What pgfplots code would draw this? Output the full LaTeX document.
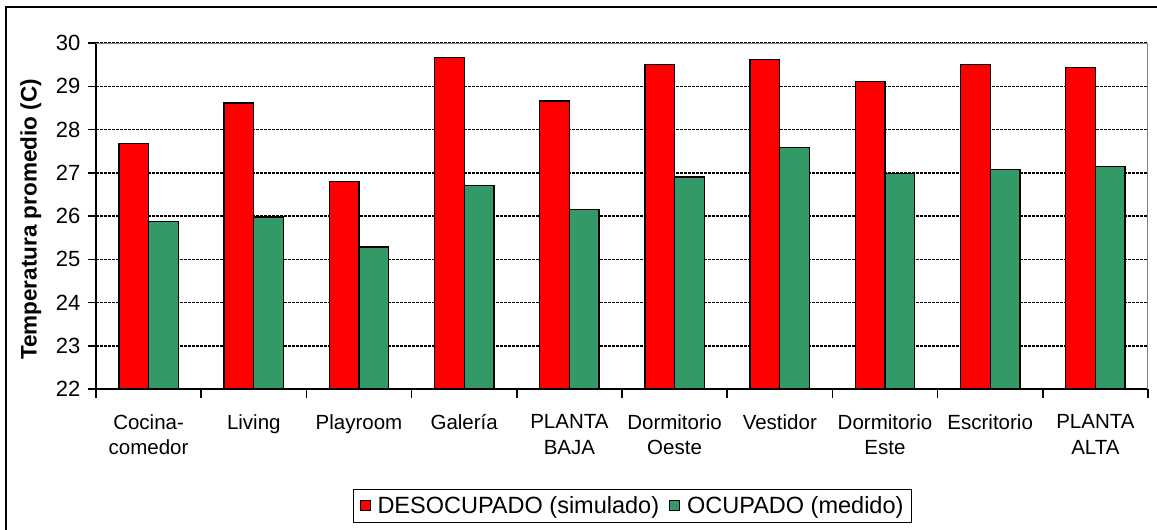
\documentclass[border=0pt]{standalone}
\usepackage{fontspec}
\setmainfont{Liberation Sans}
\usepackage{pgfplots}
\pgfplotsset{compat=1.18}
\definecolor{barred}{RGB}{255,0,0}
\definecolor{bargreen}{RGB}{51,153,102}
\begin{document}
\begin{tikzpicture}[x=1pt,y=1pt]
\useasboundingbox (-96,-141) rectangle (1061,389);
\draw[black, line width=2pt] (-90,-150) -- (-90,382) -- (1070,382);
\begin{axis}[
  at={(0,0)}, anchor=south west,
  scale only axis, width=1052pt, height=346pt,
  xmin=0.5, xmax=10.5, ymin=22, ymax=30,
  ytick={22,23,...,30},
  xtick={1,...,10},
  xticklabels={{Cocina-\\comedor},{Living},{Playroom},{Galería},{PLANTA\\BAJA},{Dormitorio\\Oeste},{Vestidor},{Dormitorio\\Este},{Escritorio},{PLANTA\\ALTA}},
  minor xtick={0.5,1.5,...,10.5},
  tick align=outside,
  major tick length=8pt,
  minor tick length=9pt,
  xtick style={draw=none},
  minor x tick style={draw=black, line width=1.5pt},
  ytick style={draw=black, line width=1.5pt},
  axis x line*=bottom, axis y line*=left,
  axis line style={line width=2pt, -},
  ymajorgrids,
  major grid style={black, line width=1.5pt, dash pattern=on 3pt off 1pt},
  /pgf/number format/assume math mode=true,
  yticklabel style={font=\fontsize{22}{26}\selectfont, xshift=-4pt},
  xticklabel style={font=\fontsize{20.5}{25.5}\selectfont, align=center, anchor=north, yshift=-14pt},
  ylabel={Temperatura promedio (C)},
  ylabel style={font=\fontsize{22.5}{27}\selectfont\bfseries, at={(axis description cs:-0.062,0.49)}, anchor=center},
  legend columns=2,
  legend style={at={(axis description cs:0.51,-0.338)}, anchor=center, draw=black, line width=1.2pt,
    font=\fontsize{23.5}{28}\selectfont, inner xsep=6pt, inner ysep=5pt,
    /tikz/every odd column/.append style={column sep=5pt},
    /tikz/every even column/.append style={column sep=8pt}},
  legend image code/.code={\draw[#1, line width=1pt] (0pt,-5pt) rectangle (10pt,5pt);},
]
\addplot[ybar, bar width=29.7pt, bar shift=-14.85pt, fill=barred, draw=black, line width=1.3pt]
 coordinates {(1,27.68) (2,28.61) (3,26.80) (4,29.67) (5,28.66) (6,29.50) (7,29.62) (8,29.11) (9,29.50) (10,29.44)};
\addlegendentry{DESOCUPADO (simulado)}
\addplot[ybar, bar width=29.7pt, bar shift=14.85pt, fill=bargreen, draw=black, line width=1.3pt]
 coordinates {(1,25.88) (2,25.98) (3,25.28) (4,26.71) (5,26.15) (6,26.90) (7,27.59) (8,26.99) (9,27.08) (10,27.14)};
\addlegendentry{OCUPADO (medido)}
\draw[gray, line width=2pt] (rel axis cs:0,1) -- (rel axis cs:1,1) -- (rel axis cs:1,0);
\end{axis}
\end{tikzpicture}
\end{document}
